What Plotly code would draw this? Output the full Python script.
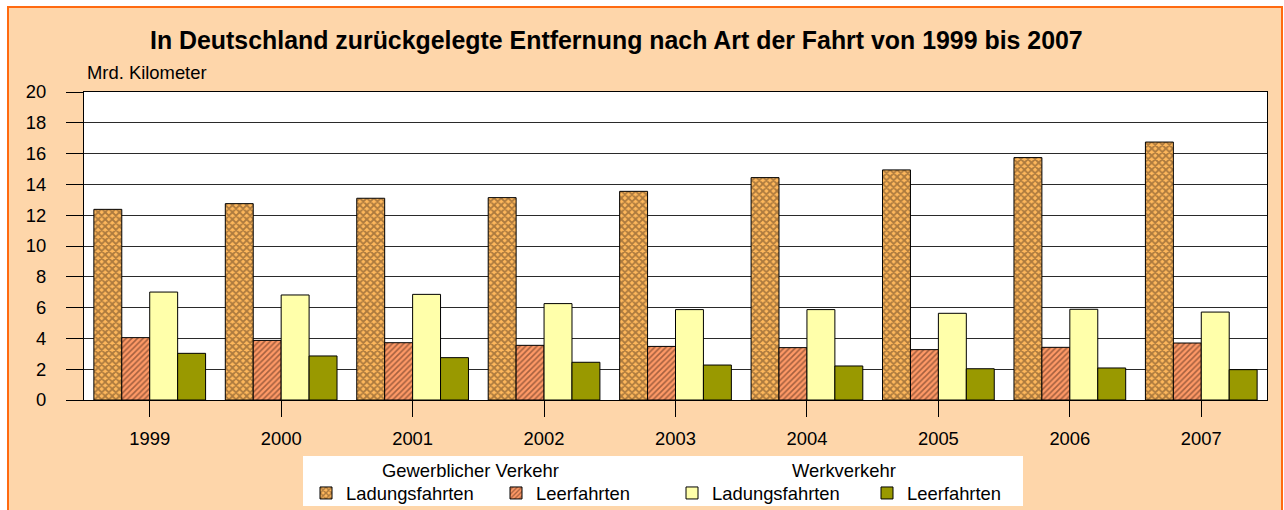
import plotly.graph_objects as go

years = ['1999', '2000', '2001', '2002', '2003', '2004', '2005', '2006', '2007']
gew_ladung = [12.38, 12.75, 13.10, 13.14, 13.55, 14.44, 14.94, 15.74, 16.75]
gew_leer = [4.05, 3.87, 3.72, 3.55, 3.48, 3.40, 3.27, 3.42, 3.70]
werk_ladung = [7.01, 6.82, 6.86, 6.26, 5.87, 5.87, 5.63, 5.89, 5.71]
werk_leer = [3.03, 2.86, 2.75, 2.45, 2.27, 2.21, 2.03, 2.08, 1.97]

W, H = 1284, 510
ML, MR, MT, MB = 84, 17, 92, 110
PW, PH = W - ML - MR, H - MT - MB


def fx(px):
    return (px - ML) / PW


def fy(py):
    return (H - MB - py) / PH


FONT = "Liberation Sans, Arial, sans-serif"
FS = 18.4
PEACH = "#FED6AA"
ORANGE_BORDER = "#FF6A10"

fig = go.Figure()
series = [
    ("Ladungsfahrten", gew_ladung, "#FFB85C", dict(shape="x", fgcolor="#5A3C20", size=5, solidity=0.6, fillmode="overlay"), "legend"),
    ("Leerfahrten", gew_leer, "#FF9966", dict(shape="/", fgcolor="#4A2818", size=4, solidity=0.4, fillmode="overlay"), "legend2"),
    ("Ladungsfahrten", werk_ladung, "#FFFFAA", None, "legend3"),
    ("Leerfahrten", werk_leer, "#999900", None, "legend4"),
]
for name, vals, col, pat, leg in series:
    marker = dict(color=col, line=dict(color="#000000", width=1))
    if pat:
        marker["pattern"] = pat
    fig.add_trace(go.Bar(x=years, y=vals, name=name, marker=marker, legend=leg, showlegend=True))

shapes = [
    # outer peach panel with orange border
    dict(type="rect", xref="paper", yref="paper", x0=fx(8), x1=fx(1282), y0=fy(530), y1=fy(7),
         fillcolor=PEACH, line=dict(color=ORANGE_BORDER, width=2), layer="below"),
    # white plot area
    dict(type="rect", xref="paper", yref="paper", x0=0, x1=1, y0=0, y1=1,
         fillcolor="#FFFFFF", line=dict(width=0), layer="below"),
    # white legend box
    dict(type="rect", xref="paper", yref="paper", x0=fx(303), x1=fx(1023), y0=fy(506), y1=fy(456),
         fillcolor="#FFFFFF", line=dict(width=0), layer="below"),
]

annotations = [
    dict(text="<b>In Deutschland zurückgelegte Entfernung nach Art der Fahrt von 1999 bis 2007</b>",
         xref="paper", yref="paper", x=fx(616), y=fy(40), xanchor="center", yanchor="middle",
         showarrow=False, font=dict(size=24.9, color="#000000", family=FONT)),
    dict(text="Mrd. Kilometer", xref="paper", yref="paper", x=fx(85), y=fy(73),
         xanchor="left", yanchor="middle", showarrow=False,
         font=dict(size=FS, color="#000000", family=FONT)),
    dict(text="Gewerblicher Verkehr", xref="paper", yref="paper", x=fx(470), y=fy(470),
         xanchor="center", yanchor="middle", showarrow=False,
         font=dict(size=FS, color="#000000", family=FONT)),
    dict(text="Werkverkehr", xref="paper", yref="paper", x=fx(844), y=fy(470),
         xanchor="center", yanchor="middle", showarrow=False,
         font=dict(size=FS, color="#000000", family=FONT)),
]

text_starts = [346, 536, 712, 907]
leg_common = dict(orientation="h", bgcolor="rgba(0,0,0,0)", borderwidth=0,
                  font=dict(size=FS, color="#000000", family=FONT),
                  xanchor="left", yanchor="middle", y=fy(493))

fig.update_layout(
    width=W, height=H, autosize=False,
    margin=dict(l=ML, r=MR, t=MT, b=MB, pad=0, autoexpand=False),
    paper_bgcolor="#FFFFFF", plot_bgcolor="#FFFFFF",
    showlegend=True,
    barmode="group", bargap=0.15, bargroupgap=0,
    font=dict(family=FONT, size=FS, color="#000000"),
    shapes=shapes, annotations=annotations,
    legend=dict(leg_common, x=fx(text_starts[0] - 40)),
    legend2=dict(leg_common, x=fx(text_starts[1] - 40)),
    legend3=dict(leg_common, x=fx(text_starts[2] - 40)),
    legend4=dict(leg_common, x=fx(text_starts[3] - 40)),
    xaxis=dict(showline=True, linecolor="#000000", linewidth=1, mirror=True,
               ticks="outside", ticklen=16, tickcolor="#000000", tickwidth=1,
               ticklabelstandoff=6, showgrid=False,
               tickfont=dict(size=FS, family=FONT, color="#000000")),
    yaxis=dict(range=[0, 20], dtick=2, tick0=0, showline=True, linecolor="#000000",
               linewidth=1, mirror=True, ticks="outside", ticklen=17, tickcolor="#000000",
               tickwidth=1, showgrid=True, gridcolor="#2A2A2A", gridwidth=1,
               zeroline=False, ticklabelstandoff=16,
               tickfont=dict(size=FS, family=FONT, color="#000000")),
)

fig.write_html("out.html")
